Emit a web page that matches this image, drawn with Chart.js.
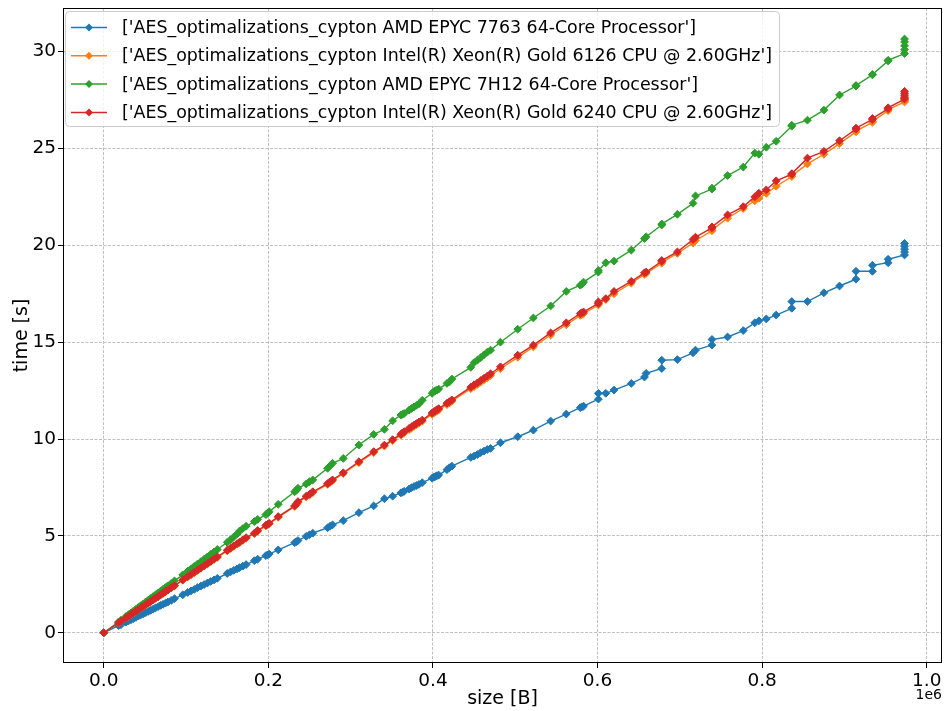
<!DOCTYPE html>
<html>
<head>
<meta charset="utf-8">
<title>AES_optimalizations_cypton</title>
<script src="https://cdn.jsdelivr.net/npm/chart.js@4.4.1/dist/chart.umd.min.js"></script>
<style>
  html, body { margin: 0; padding: 0; background: #fff; }
  #grafik { display: block; }
</style>
</head>
<body>
<canvas id="grafik" width="949" height="711"></canvas>
<script>
/*VERILER*/
var sizes = [
  0, 18000, 21000, 27000, 30000, 33000, 36000, 39000, 42000, 45000,
  48000, 51000, 54000, 57000, 60000, 63000, 66000, 69000, 72000, 75000,
  78000, 82000, 86000, 96000, 102000, 106000, 110000, 114000, 118000, 122000,
  126000, 130000, 134000, 138000, 150000, 154000, 158000, 162000, 165000, 169000,
  173000, 183000, 187000, 197000, 199000, 201000, 212000, 232000, 234000, 236000,
  246000, 250000, 254000, 272000, 275000, 278000, 291000, 310000, 328000, 341000,
  351000, 361000, 363000, 365000, 371000, 374000, 377000, 380000, 383000, 387000,
  399000, 401000, 403000, 405000, 407000, 417000, 420000, 423000, 446000, 450000,
  454000, 458000, 462000, 466000, 470000, 482000, 503000, 522000, 543000, 562000,
  579000, 581000, 583000, 601000, 601000, 610000, 620000, 641000, 657000, 659000,
  678000, 678000, 697000, 716000, 719000, 739000, 739000, 758000, 777000, 791000,
  796000, 805000, 817000, 836000, 836000, 855000, 875000, 894000, 914000, 914000,
  934000, 934000, 953000, 953000, 973000, 973000, 973000, 973000, 973000
];

var epyc7763 = [
  0, 0.37, 0.42, 0.55, 0.61, 0.67, 0.73, 0.79, 0.86, 0.92,
  0.98, 1.04, 1.10, 1.16, 1.22, 1.29, 1.35, 1.41, 1.47, 1.53,
  1.59, 1.67, 1.76, 1.96, 2.08, 2.16, 2.24, 2.33, 2.41, 2.49,
  2.57, 2.65, 2.73, 2.81, 3.06, 3.14, 3.22, 3.30, 3.36, 3.44,
  3.52, 3.72, 3.80, 3.98, 4.02, 4.06, 4.28, 4.65, 4.70, 4.76,
  4.98, 5.06, 5.14, 5.42, 5.50, 5.57, 5.79, 6.20, 6.55, 6.92,
  7.05, 7.22, 7.26, 7.30, 7.42, 7.49, 7.55, 7.60, 7.66, 7.75,
  7.98, 8.03, 8.07, 8.11, 8.14, 8.42, 8.52, 8.60, 9.05, 9.12,
  9.20, 9.30, 9.38, 9.46, 9.52, 9.81, 10.12, 10.46, 10.93, 11.29,
  11.62, 11.66, 11.70, 12.06, 12.36, 12.36, 12.53, 12.87, 13.20, 13.39,
  13.64, 14.07, 14.10, 14.45, 14.59, 14.85, 15.14, 15.27, 15.60, 16.00,
  16.10, 16.20, 16.40, 16.75, 17.10, 17.10, 17.55, 17.90, 18.25, 18.66,
  18.66, 18.97, 19.10, 19.28, 19.50, 19.65, 19.80, 19.95, 20.10
];

var gold6126 = [
  0, 0.50, 0.59, 0.76, 0.84, 0.93, 1.01, 1.10, 1.18, 1.27,
  1.35, 1.43, 1.52, 1.60, 1.69, 1.77, 1.86, 1.94, 2.03, 2.11,
  2.20, 2.31, 2.42, 2.71, 2.88, 2.99, 3.10, 3.21, 3.33, 3.44,
  3.55, 3.67, 3.78, 3.89, 4.23, 4.34, 4.46, 4.57, 4.65, 4.77,
  4.88, 5.12, 5.24, 5.52, 5.57, 5.62, 5.96, 6.52, 6.61, 6.73,
  7.01, 7.11, 7.24, 7.66, 7.76, 7.85, 8.22, 8.78, 9.30, 9.64,
  9.92, 10.20, 10.26, 10.32, 10.49, 10.57, 10.66, 10.74, 10.82, 10.92,
  11.28, 11.34, 11.39, 11.45, 11.50, 11.78, 11.86, 11.95, 12.60, 12.71,
  12.82, 12.94, 13.05, 13.16, 13.28, 13.63, 14.22, 14.76, 15.37, 15.90,
  16.38, 16.43, 16.48, 16.92, 16.98, 17.20, 17.50, 18.05, 18.50, 18.55,
  19.08, 19.12, 19.58, 20.12, 20.25, 20.75, 20.80, 21.40, 21.90, 22.30,
  22.43, 22.68, 23.05, 23.55, 23.58, 24.20, 24.70, 25.25, 25.86, 25.90,
  26.35, 26.40, 26.95, 27.00, 27.40, 27.45, 27.50, 27.55, 27.60
];

var epyc7h12 = [
  0, 0.56, 0.65, 0.84, 0.93, 1.02, 1.12, 1.21, 1.31, 1.40,
  1.49, 1.59, 1.68, 1.77, 1.87, 1.96, 2.05, 2.15, 2.24, 2.33,
  2.43, 2.55, 2.68, 2.99, 3.18, 3.30, 3.43, 3.55, 3.67, 3.80,
  3.92, 4.05, 4.17, 4.30, 4.67, 4.80, 4.95, 5.10, 5.25, 5.38,
  5.50, 5.74, 5.85, 6.10, 6.17, 6.25, 6.63, 7.28, 7.36, 7.46,
  7.68, 7.80, 7.89, 8.49, 8.62, 8.75, 9.00, 9.69, 10.24, 10.50,
  10.94, 11.24, 11.28, 11.32, 11.49, 11.58, 11.66, 11.74, 11.82, 12.00,
  12.36, 12.45, 12.50, 12.53, 12.58, 12.87, 12.95, 13.10, 13.70, 13.95,
  14.07, 14.20, 14.35, 14.48, 14.59, 15.00, 15.67, 16.25, 16.87, 17.62,
  17.94, 18.00, 18.10, 18.62, 18.70, 19.10, 19.18, 19.75, 20.35, 20.44,
  21.05, 21.10, 21.60, 22.17, 22.55, 22.90, 22.95, 23.60, 24.04, 24.76,
  24.70, 25.06, 25.37, 26.15, 26.20, 26.46, 26.98, 27.76, 28.22, 28.25,
  28.80, 28.82, 29.52, 29.55, 29.90, 30.10, 30.30, 30.50, 30.65
];

var gold6240 = [
  0, 0.51, 0.60, 0.77, 0.85, 0.94, 1.02, 1.11, 1.19, 1.28,
  1.36, 1.45, 1.53, 1.62, 1.70, 1.79, 1.87, 1.96, 2.04, 2.13,
  2.21, 2.33, 2.44, 2.73, 2.90, 3.01, 3.12, 3.24, 3.35, 3.46,
  3.58, 3.69, 3.81, 3.92, 4.26, 4.37, 4.49, 4.60, 4.68, 4.80,
  4.91, 5.14, 5.28, 5.55, 5.60, 5.65, 6.00, 6.55, 6.65, 6.77,
  7.05, 7.15, 7.28, 7.70, 7.80, 7.89, 8.26, 8.83, 9.35, 9.69,
  9.97, 10.25, 10.32, 10.38, 10.55, 10.63, 10.72, 10.80, 10.88, 10.98,
  11.35, 11.41, 11.46, 11.52, 11.57, 11.85, 11.93, 12.02, 12.68, 12.80,
  12.90, 13.02, 13.14, 13.25, 13.37, 13.73, 14.33, 14.85, 15.48, 16.00,
  16.48, 16.52, 16.56, 17.00, 17.08, 17.25, 17.62, 18.14, 18.58, 18.62,
  19.18, 19.22, 19.66, 20.30, 20.42, 20.90, 20.95, 21.57, 22.00, 22.50,
  22.69, 22.86, 23.33, 23.67, 23.70, 24.50, 24.85, 25.40, 26.00, 26.05,
  26.50, 26.55, 27.05, 27.10, 27.55, 27.65, 27.75, 27.85, 27.95
];

var seriesNames = [
  "['AES_optimalizations_cypton AMD EPYC 7763 64-Core Processor']",
  "['AES_optimalizations_cypton Intel(R) Xeon(R) Gold 6126 CPU @ 2.60GHz']",
  "['AES_optimalizations_cypton AMD EPYC 7H12 64-Core Processor']",
  "['AES_optimalizations_cypton Intel(R) Xeon(R) Gold 6240 CPU @ 2.60GHz']"
];
var seriesColors = ["#1f77b4", "#ff7f0e", "#2ca02c", "#d62728"];

var xTickValues = [0, 200000, 400000, 600000, 800000, 1000000];
var xTickLabels = ["0.0", "0.2", "0.4", "0.6", "0.8", "1.0"];
var yTickValues = [0, 5, 10, 15, 20, 25, 30];
var yTickLabels = ["0", "5", "10", "15", "20", "25", "30"];
/*VERILER*/

var yaziTipi = '"DejaVu Sans", sans-serif';

function noktalar(values) {
  var sonuc = [];
  for (var i = 0; i < sizes.length; i++) {
    sonuc.push({x: sizes[i], y: values[i]});
  }
  return sonuc;
}

function seriOlustur(index, values) {
  return {
    label: seriesNames[index],
    data: noktalar(values),
    borderColor: seriesColors[index],
    backgroundColor: seriesColors[index],
    borderWidth: 1.4,
    pointStyle: 'rectRot',
    pointRadius: 3.9,
    pointBorderWidth: 1,
    pointBorderColor: seriesColors[index],
    pointBackgroundColor: seriesColors[index],
    tension: 0,
    order: 4 - index
  };
}

/*CERCEVE, LEJANT VE EKSEN YAZILARI*/
var ekstralar = {
  id: 'ekstralar',
  afterDraw: function (chart) {
    var ctx = chart.ctx;
    var a = chart.chartArea;
    ctx.save();

    // cerceve
    ctx.strokeStyle = '#000';
    ctx.lineWidth = 1;
    ctx.setLineDash([]);
    ctx.strokeRect(a.left + 0.5, a.top + 0.5, a.right - a.left - 1, a.bottom - a.top - 1);

    // eksen basliklari
    ctx.fillStyle = '#000';
    ctx.font = '19px ' + yaziTipi;
    ctx.textAlign = 'center';
    ctx.textBaseline = 'middle';
    ctx.fillText('size [B]', (a.left + a.right) / 2, 699);

    ctx.save();
    ctx.translate(22, (a.top + a.bottom) / 2);
    ctx.rotate(-Math.PI / 2);
    ctx.fillText('time [s]', 0, 0);
    ctx.restore();

    ctx.font = '14px ' + yaziTipi;
    ctx.textAlign = 'right';
    ctx.fillText('1e6', a.right, 695);

    // lejant
    var kx = 65.5, ky = 11.5, kw = 714, kh = 115, r = 4;
    ctx.beginPath();
    ctx.moveTo(kx + r, ky);
    ctx.lineTo(kx + kw - r, ky);
    ctx.arcTo(kx + kw, ky, kx + kw, ky + r, r);
    ctx.lineTo(kx + kw, ky + kh - r);
    ctx.arcTo(kx + kw, ky + kh, kx + kw - r, ky + kh, r);
    ctx.lineTo(kx + r, ky + kh);
    ctx.arcTo(kx, ky + kh, kx, ky + kh - r, r);
    ctx.lineTo(kx, ky + r);
    ctx.arcTo(kx, ky, kx + r, ky, r);
    ctx.closePath();
    ctx.fillStyle = 'rgba(255,255,255,0.8)';
    ctx.fill();
    ctx.strokeStyle = '#cccccc';
    ctx.lineWidth = 1;
    ctx.stroke();

    ctx.font = '17.4px ' + yaziTipi;
    ctx.textAlign = 'left';
    ctx.textBaseline = 'middle';
    for (var i = 0; i < seriesNames.length; i++) {
      var sy = 27.5 + i * 28.3;
      ctx.strokeStyle = seriesColors[i];
      ctx.lineWidth = 1.5;
      ctx.beginPath();
      ctx.moveTo(71, sy);
      ctx.lineTo(107, sy);
      ctx.stroke();

      ctx.fillStyle = seriesColors[i];
      ctx.beginPath();
      ctx.moveTo(89, sy - 4);
      ctx.lineTo(93, sy);
      ctx.lineTo(89, sy + 4);
      ctx.lineTo(85, sy);
      ctx.closePath();
      ctx.fill();

      ctx.fillStyle = '#000';
      ctx.fillText(seriesNames[i], 122, sy + 1);
    }
    ctx.restore();
  }
};
/*CERCEVE, LEJANT VE EKSEN YAZILARI*/

var ctx = document.getElementById("grafik");
var myChart = new Chart(ctx, {
  type: 'line',
  data: {
    datasets: [
      seriOlustur(0, epyc7763),
      seriOlustur(1, gold6126),
      seriOlustur(2, epyc7h12),
      seriOlustur(3, gold6240)
    ]
  },
  options: {
    responsive: false,
    animation: false,
    devicePixelRatio: 1,
    layout: {padding: {left: 0, top: 8, right: 7, bottom: 0}},
    plugins: {
      legend: {display: false},
      tooltip: {enabled: false}
    },
    scales: {
      x: {
        type: 'linear',
        min: -49500,
        max: 1018500,
        afterBuildTicks: function (scale) {
          scale.ticks = xTickValues.map(function (v) { return {value: v}; });
        },
        afterFit: function (scale) {
          scale.height = 48;
          scale.paddingLeft = 0;
          scale.paddingRight = 0;
        },
        ticks: {
          color: '#000',
          padding: 2,
          maxRotation: 0,
          autoSkip: false,
          font: {family: yaziTipi, size: 18.5},
          callback: function (value, index) { return xTickLabels[index]; }
        },
        grid: {
          color: '#b0b0b0',
          lineWidth: 0.8,
          drawTicks: true,
          tickLength: 5,
          tickColor: '#000',
          tickWidth: 1,
          tickBorderDash: []
        },
        border: {display: false, dash: [3, 1.5]}
      },
      y: {
        type: 'linear',
        min: -1.56,
        max: 32.25,
        afterBuildTicks: function (scale) {
          scale.ticks = yTickValues.map(function (v) { return {value: v}; });
        },
        afterFit: function (scale) {
          scale.width = 63;
          scale.paddingTop = 0;
          scale.paddingBottom = 0;
        },
        ticks: {
          color: '#000',
          padding: 2,
          autoSkip: false,
          font: {family: yaziTipi, size: 18.5},
          callback: function (value, index) { return yTickLabels[index]; }
        },
        grid: {
          color: '#b0b0b0',
          lineWidth: 0.8,
          drawTicks: true,
          tickLength: 5,
          tickColor: '#000',
          tickWidth: 1,
          tickBorderDash: []
        },
        border: {display: false, dash: [3, 1.5]}
      }
    }
  },
  plugins: [ekstralar]
});
</script>
</body>
</html>
